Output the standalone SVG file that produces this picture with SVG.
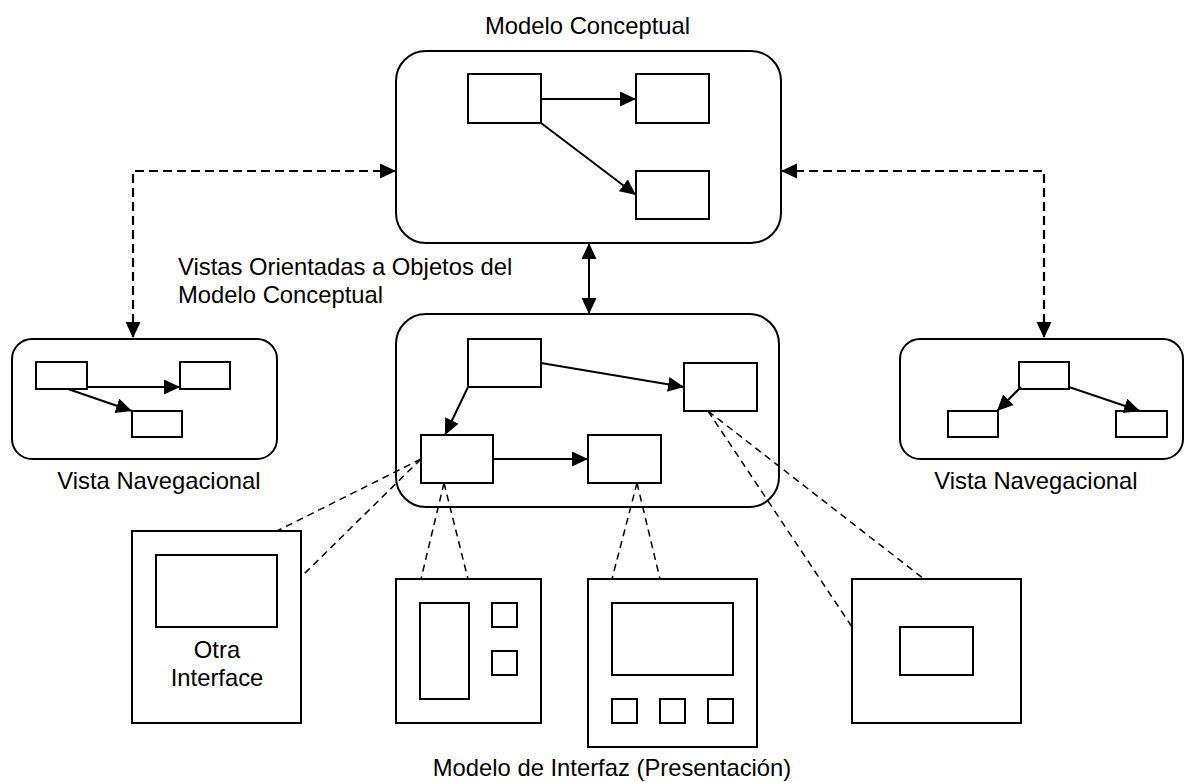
<svg xmlns="http://www.w3.org/2000/svg" width="1184" height="782" viewBox="0 0 1184 782">
<style>
.box{fill:#fff;stroke:#000;stroke-width:2}
.in{fill:#fff;stroke:#000;stroke-width:2}
.arr{fill:none;stroke:#000;stroke-width:2;marker-end:url(#ah)}
.dbl{fill:none;stroke:#000;stroke-width:2;marker-start:url(#ah);marker-end:url(#ah)}
.dashd{fill:none;stroke:#000;stroke-width:2.2;stroke-dasharray:9,5;marker-start:url(#ah);marker-end:url(#ah)}
.link{fill:none;stroke:#000;stroke-width:1.5;stroke-dasharray:7,5}
text{font-family:"Liberation Sans",Arial,sans-serif;font-size:23.8px;fill:#000}
</style>
<defs>
<marker id="ah" markerUnits="userSpaceOnUse" markerWidth="18" markerHeight="16" refX="16" refY="7.5" orient="auto-start-reverse">
<path d="M0,0 L16,7.5 L0,15 z" fill="#000"/>
</marker>
</defs>
<rect width="1184" height="782" fill="#fff"/>

<g id="modelo-conceptual">
<rect class="box" x="396" y="51" width="385" height="192" rx="30"/>
<rect class="in" x="468" y="74" width="73" height="49"/>
<rect class="in" x="636" y="74" width="73" height="49"/>
<rect class="in" x="636" y="171" width="73" height="48"/>
<text x="587.5" y="34" text-anchor="middle">Modelo Conceptual</text>
</g>

<g id="vista-nav-izq">
<rect class="box" x="12" y="339" width="265" height="120" rx="20"/>
<rect class="in" x="36" y="362" width="51" height="27"/>
<rect class="in" x="180" y="362" width="50" height="27"/>
<rect class="in" x="132" y="411" width="50" height="26"/>
<text x="159" y="489" text-anchor="middle">Vista Navegacional</text>
</g>

<g id="vista-nav-der">
<rect class="box" x="900" y="339" width="283" height="120" rx="20"/>
<rect class="in" x="1019" y="362" width="50" height="27"/>
<rect class="in" x="948" y="411" width="50" height="26"/>
<rect class="in" x="1116" y="411" width="51" height="26"/>
<text x="1036" y="489" text-anchor="middle">Vista Navegacional</text>
</g>

<g id="vistas-label">
<text x="178" y="275">Vistas Orientadas a Objetos del</text>
<text x="178" y="303">Modelo Conceptual</text>
</g>

<g id="modelo-navegacional">
<rect class="box" x="396" y="314" width="383" height="193" rx="30"/>
<rect class="in" x="468" y="339" width="73" height="48"/>
<rect class="in" x="684" y="363" width="73" height="48"/>
<rect class="in" x="421" y="435" width="72" height="48"/>
<rect class="in" x="588" y="435" width="73" height="48"/>
</g>

<g id="otra-interface">
<rect class="box" x="132" y="531" width="169" height="192"/>
<rect class="in" x="156" y="555" width="121" height="72"/>
<text x="217" y="658" text-anchor="middle">Otra</text>
<text x="217" y="686" text-anchor="middle">Interface</text>
</g>

<g id="interfaz-1">
<rect class="box" x="396" y="579" width="145" height="144"/>
<rect class="in" x="420" y="603" width="49" height="96"/>
<rect class="in" x="492" y="603" width="25" height="24"/>
<rect class="in" x="492" y="651" width="25" height="24"/>
</g>

<g id="interfaz-2">
<rect class="box" x="588" y="579" width="169" height="168"/>
<rect class="in" x="612" y="603" width="121" height="72"/>
<rect class="in" x="612" y="699" width="25" height="24"/>
<rect class="in" x="660" y="699" width="25" height="24"/>
<rect class="in" x="708" y="699" width="25" height="24"/>
</g>

<g id="interfaz-3">
<rect class="box" x="852" y="579" width="169" height="144"/>
<rect class="in" x="900" y="627" width="73" height="48"/>
</g>

<g id="modelo-interfaz-label">
<text x="612" y="776" text-anchor="middle">Modelo de Interfaz (Presentación)</text>
</g>

<g id="connectors">
<path class="arr" d="M541,99 L636,99"/>
<path class="arr" d="M541,123 L636,195"/>
<path class="arr" d="M87,387 L180,387"/>
<path class="arr" d="M68,389 L132,411"/>
<path class="arr" d="M1021,387 L997,411"/>
<path class="arr" d="M1069,387 L1140,411"/>
<path class="arr" d="M541,363 L684,387"/>
<path class="arr" d="M468,387 L445,435"/>
<path class="arr" d="M493,459 L588,459"/>
<path class="dbl" d="M589,243 L589,314"/>
<path class="dashd" d="M396,171 L133,171 L133,338"/>
<path class="dashd" d="M781,171 L1044,171 L1044,338"/>
<path class="link" d="M421,459 L277,531"/>
<path class="link" d="M421,459 L301,577"/>
<path class="link" d="M444,483 L421,579"/>
<path class="link" d="M444,483 L468,579"/>
<path class="link" d="M637,483 L612,579"/>
<path class="link" d="M637,483 L660,579"/>
<path class="link" d="M708,411 L852,627"/>
<path class="link" d="M708,411 L924,579"/>
</g>
</svg>
